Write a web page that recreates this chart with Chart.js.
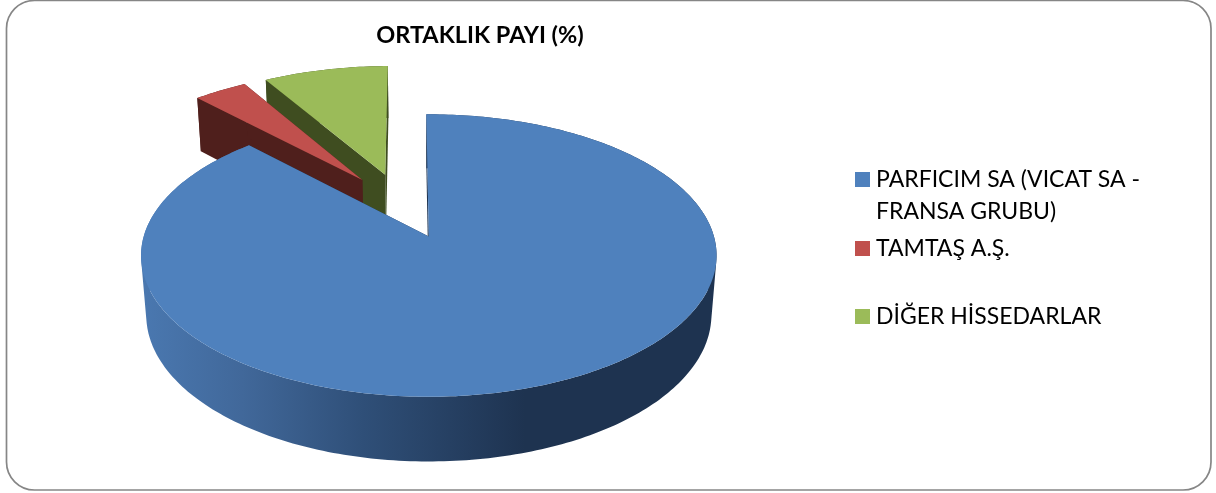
<!DOCTYPE html>
<html>
<head>
<meta charset="utf-8">
<title>ORTAKLIK PAYI (%)</title>
<script src="https://cdn.jsdelivr.net/npm/chart.js@4"></script>
<style>
    html, body { margin: 0; padding: 0; background: #fff; }
    canvas { display: block; }
</style>
</head>
<body>
<canvas id="chart1" width="1216" height="493"></canvas>
<script>
const chartTitle = 'ORTAKLIK PAYI (%)';
const labels = ['PARFICIM SA (VICAT SA - FRANSA GRUBU)', 'TAMTAŞ A.Ş.', 'DİĞER HİSSEDARLAR'];
const shares = [88.0, 3.6, 8.4];

const topColors = ['#4f81bd', '#c0504d', '#9bbb59'];
const wallColors = [null, '#4f1f1c', '#3f4d20'];
const blueWallStops = [[0, '#4a78b0'], [0.25, '#41689a'], [0.55, '#2f4f78'], [0.95, '#1e3350'], [1, '#1e3350']];

// camera used to tip the flat pie over into the 3d look of the original
const view = { ox: 430, oy: 236, rx: 285, ry: 138.5, depth: 60, persp: 0.135, sink: 0.018, cu: -0.099, cv: 0.229 };

// where the legend rows sit (text baselines)
const legendBox = { swatchX: 855, textX: 876, swatch: 15, wrap: 300, step: 32, baselines: [187, 256, 324] };
const labelFont = '23px Lato';

function project(u, v, z) {
    const s = 1 / (1 + view.persp * v + view.sink * z);
    return [view.ox + u * view.rx * s, view.oy + (-v * view.ry + z * view.depth) * s];
}

function addPoly(ctx, pts) {
    pts.forEach((p, i) => i ? ctx.lineTo(p[0], p[1]) : ctx.moveTo(p[0], p[1]));
    ctx.closePath();
}

function fillPoly(ctx, pts, color) {
    ctx.beginPath();
    addPoly(ctx, pts);
    ctx.fillStyle = color;
    ctx.fill();
}

function drawSlice(ctx, arc, idx) {
    const a0 = arc.startAngle + Math.PI / 2;
    const a1 = arc.endAngle + Math.PI / 2;
    const mid = (a0 + a1) / 2;
    const e = arc.options.offset / 4 / arc.outerRadius;
    const cu = view.cu + e * Math.sin(mid);
    const cv = view.cv + e * Math.cos(mid);

    const rim = [];
    const n = Math.max(2, Math.ceil((a1 - a0) * 180 / Math.PI));
    for (let i = 0; i <= n; i++) {
        const t = a0 + (a1 - a0) * i / n;
        rim.push([cu + Math.sin(t), cv + Math.cos(t)]);
    }
    const top = rim.map(p => project(p[0], p[1], 0));
    const bottom = rim.map(p => project(p[0], p[1], 1));
    const apexTop = project(cu, cv, 0);
    const apexBottom = project(cu, cv, 1);

    let wall = wallColors[idx];
    if (!wall) {
        wall = ctx.createLinearGradient(141, 0, 545, 0);
        blueWallStops.forEach(s => wall.addColorStop(s[0], s[1]));
    }
    const edgeColor = wallColors[idx] || '#1e3350';

    // all rim strips in one path, so the tangent corners get filled and no seams show
    ctx.beginPath();
    for (let i = 0; i < n; i++) {
        const a = top[i], b = top[i + 1], c = bottom[i + 1], d = bottom[i];
        const area = (b[0] - a[0]) * (c[1] - a[1]) - (b[1] - a[1]) * (c[0] - a[0]);
        addPoly(ctx, area > 0 ? [a, b, c, d] : [d, c, b, a]);
    }
    ctx.fillStyle = wall;
    ctx.fill();

    fillPoly(ctx, [apexTop, top[0], bottom[0], apexBottom], edgeColor);
    fillPoly(ctx, [apexTop, top[n], bottom[n], apexBottom], edgeColor);
    fillPoly(ctx, [apexTop].concat(top), arc.options.backgroundColor);
}

function wrapLabel(ctx, text, maxWidth) {
    const lines = [];
    let line = '';
    text.split(' ').forEach(word => {
        const next = line ? line + ' ' + word : word;
        if (ctx.measureText(next).width > maxWidth && line) {
            lines.push(line);
            line = word;
        } else {
            line = next;
        }
    });
    lines.push(line);
    return lines;
}

const pie3d = {
    id: 'pie3d',
    beforeDraw(chart) {
        const ctx = chart.ctx;
        ctx.save();
        ctx.beginPath();
        ctx.roundRect(6.5, 0.5, 1204.5, 489.5, 28);
        ctx.strokeStyle = '#868686';
        ctx.lineWidth = 1.7;
        ctx.stroke();
        ctx.restore();
    },
    beforeDatasetsDraw(chart) {
        const ctx = chart.ctx;
        const arcs = chart.getDatasetMeta(0).data;
        ctx.save();
        // back slices first, the big blue one has to land on top
        for (let i = arcs.length - 1; i >= 0; i--) {
            drawSlice(ctx, arcs[i], i);
        }
        ctx.restore();
        return false;
    },
    afterDraw(chart) {
        const ctx = chart.ctx;
        ctx.save();
        ctx.font = labelFont;
        ctx.textBaseline = 'alphabetic';
        labels.forEach((label, i) => {
            const y = legendBox.baselines[i];
            ctx.fillStyle = topColors[i];
            ctx.fillRect(legendBox.swatchX, y - legendBox.swatch, legendBox.swatch, legendBox.swatch);
            ctx.fillStyle = '#000';
            wrapLabel(ctx, label, legendBox.wrap).forEach((line, j) => {
                ctx.fillText(line, legendBox.textX, y + j * legendBox.step);
            });
        });
        ctx.restore();
    }
};

new Chart(document.getElementById('chart1'), {
    type: 'pie',
    data: {
        labels: labels,
        datasets: [{
            data: shares,
            backgroundColor: topColors,
            borderWidth: 0,
            offset: 145
        }]
    },
    options: {
        responsive: false,
        animation: false,
        rotation: -0.6,
        layout: { padding: { right: 256 } },
        plugins: {
            legend: { display: false },
            tooltip: { enabled: false },
            title: {
                display: true,
                text: chartTitle,
                color: '#000',
                font: { family: 'Lato', size: 23.5, weight: 'bold' },
                padding: { top: 21, bottom: 10 }
            }
        }
    },
    plugins: [pie3d]
});
</script>
</body>
</html>
